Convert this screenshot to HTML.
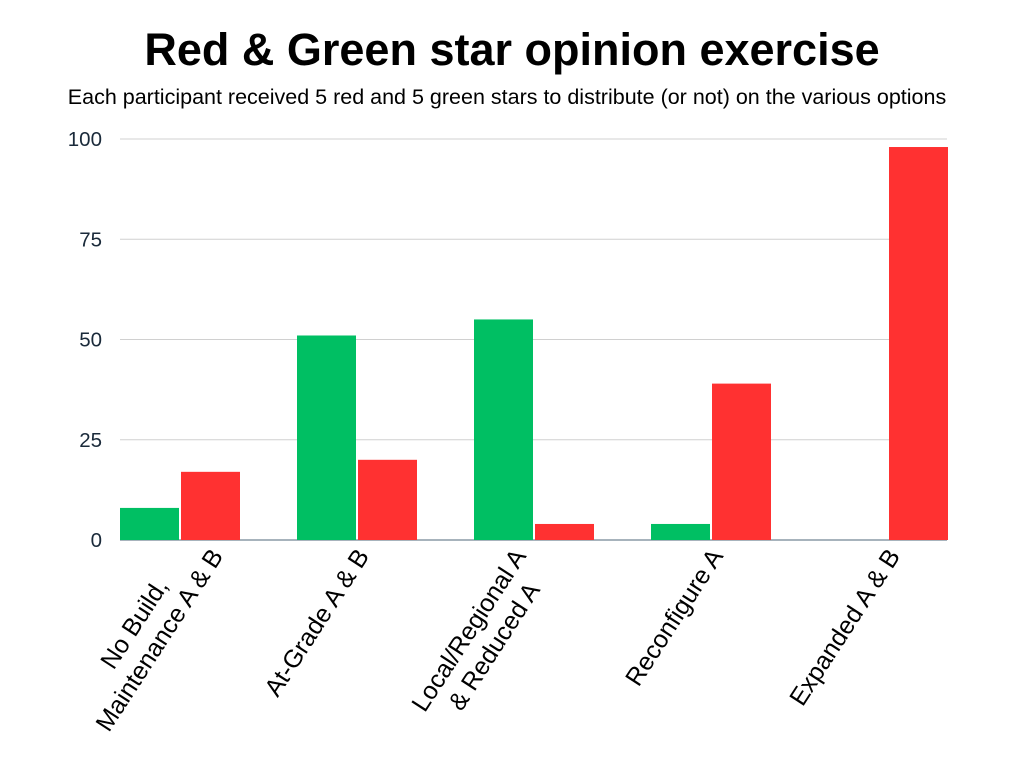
<!DOCTYPE html>
<html><head><meta charset="utf-8"><style>
body{margin:0;background:#fff;}
svg{display:block;font-family:"Liberation Sans",sans-serif;}
</style></head><body>
<svg id="chart" width="1024" height="768">
<text x="512" y="65" text-anchor="middle" font-size="45" font-weight="bold" fill="#000">Red &amp; Green star opinion exercise</text>
<text x="507" y="104" text-anchor="middle" font-size="21.5" fill="#000">Each participant received 5 red and 5 green stars to distribute (or not) on the various options</text>
<g id="grid"></g><g id="bars"></g><g id="labels"></g>
</svg>
<script>
const categories=[["No Build,","Maintenance A & B"],["At-Grade A & B"],["Local/Regional A","& Reduced  A"],["Reconfigure A"],["Expanded A & B"]];
const greenValues=[8,51,55,4,0];
const redValues=[17,20,4,39,98];
const yTicks=[0,25,50,75,100];
const NS="http://www.w3.org/2000/svg";
const x0=120,x1=947,y0=540,y100=139,step=177,bw=59;
const labelShift=[44,13,-7,13,13];
const y=v=>y0-(y0-y100)*v/100;
function mk(tag,attrs,parent){const e=document.createElementNS(NS,tag);for(const k in attrs)e.setAttribute(k,attrs[k]);parent.appendChild(e);return e;}
const grid=document.getElementById('grid'),bars=document.getElementById('bars'),labels=document.getElementById('labels');
yTicks.forEach(t=>{
  const l=mk('line',{x1:x0,x2:x1,y1:y(t),y2:y(t),stroke:t===0?'#8a9aa6':'#d0d0d0','stroke-width':t===0?1.5:1},grid);
  
  
  const tx=mk('text',{x:102,y:y(t)+7,'text-anchor':'end','font-size':20.5,fill:'#1a2a3a'},grid);
  tx.textContent=t;
  
  
});
categories.forEach((c,i)=>{
  const gx=x0+step*i;
  if(greenValues[i]>0){
    const g=mk('rect',{x:gx,y:y(greenValues[i]),width:bw,height:y0-y(greenValues[i]),fill:'#00bf63'},bars);
    
    
  }
  const r=mk('rect',{x:gx+bw+2,y:y(redValues[i]),width:bw,height:y0-y(redValues[i]),fill:'#ff3131'},bars);
  
  
  const cx=gx+bw+1+labelShift[i],cy=556;
  const t=mk('text',{transform:`translate(${cx},${cy}) rotate(-57)`,'text-anchor':'middle','font-size':25,fill:'#000'},labels);
  
  
  const spans=c.map(line=>{const ts=mk('tspan',{x:0,y:0},t);ts.textContent=line;return ts;});
  const lens=spans.map(s=>s.getComputedTextLength());
  const L=Math.max(...lens);const k=lens.indexOf(L);
  spans.forEach((s,j)=>{s.setAttribute('x',-L/2);s.setAttribute('y',(j-k)*30);});
});
</script>
</body></html>
